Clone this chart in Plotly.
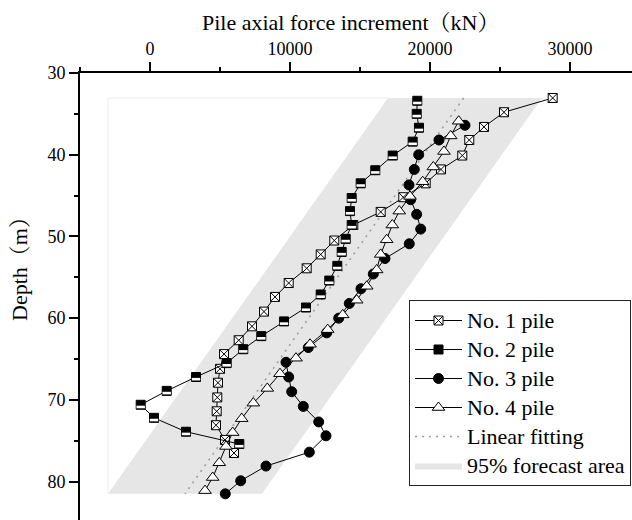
import plotly.graph_objects as go

# ---------------- data ----------------
depth1 = [33.06, 34.8, 36.6, 38.2, 40.1, 41.8, 43.5, 45.2, 47.0, 48.6, 50.5, 52.2, 53.9,
          55.7, 57.4, 59.2, 61.0, 62.7, 64.4, 66.2, 67.9, 69.7, 71.4, 73.1, 74.9, 76.5]
force1 = [28764, 25286, 23857, 22807, 22307, 20786, 19693, 18093, 16479, 14521, 13164, 12193,
          11193, 9907, 8929, 8143, 7286, 6336, 5286, 5000, 4857, 4807, 4764, 4714, 5357, 6000]

depth2 = [33.4, 35.0, 36.7, 38.4, 40.1, 41.9, 43.5, 45.3, 46.9, 48.6, 50.3, 51.9, 53.6,
          55.4, 57.1, 58.7, 60.4, 62.2, 63.8, 65.5, 67.2, 68.9, 70.6, 72.2, 73.9, 75.4]
force2 = [19093, 19050, 19214, 18764, 17336, 16093, 15050, 14407, 14286, 14407, 13979, 13693,
          13379, 12807, 12193, 11143, 9571, 7950, 6664, 5479, 3286, 1193, -664, 286, 2571, 6379]

depth3 = [36.4, 38.2, 40.0, 41.8, 43.7, 45.5, 47.3, 49.1, 50.9, 52.7, 54.6, 56.4, 58.2,
          60.0, 61.8, 63.6, 65.4, 67.2, 69.0, 70.8, 72.7, 74.4, 76.4, 78.1, 79.9, 81.5]
force3 = [22500, 20643, 19193, 18879, 18500, 18621, 19050, 19336, 18521, 16786, 15950, 15071,
          14236, 13479, 12621, 11307, 9714, 9907, 10121, 10950, 12050, 12571, 11379, 8286, 6479, 5379]

depth4 = [35.9, 37.7, 39.6, 41.5, 43.3, 45.1, 46.9, 48.6, 50.4, 52.2, 54.1, 56.1, 57.8,
          59.6, 61.4, 63.2, 64.9, 66.8, 68.6, 70.4, 72.3, 74.0, 75.7, 77.7, 79.5, 81.1]
force4 = [22050, 21479, 21000, 20236, 19479, 18571, 17807, 17307, 16907, 16479, 16193, 15479,
          14764, 13764, 12693, 11429, 10429, 9286, 8379, 7379, 6550, 5907, 5429, 4950, 4479, 3929]

fit_depth = [33.06, 81.5]
fit_force = [22400, 2500]

band_depth = [33.06, 33.06, 81.5, 81.5]
band_force = [17000, 28000, 8000, -3000]

x_ticks = [0, 10000, 20000, 30000]
y_ticks = [30, 40, 50, 60, 70, 80]

# ---------------- layout constants ----------------
W, H = 632, 520
ML, MR, MT, MB = 80, 0, 73, 0
Y_RANGE = [84.7, 30]
X_RANGE = [-5000, 34430]
FONT = "Liberation Serif, Times New Roman, Noto Serif CJK SC, Noto Sans CJK SC, serif"
LEG = '<span style="font-size:22px">{}</span>'

px_per_m = (H - MT - MB) / (Y_RANGE[0] - Y_RANGE[1])

fig = go.Figure()

# forecast band (drawn first, listed last in legend)
fig.add_trace(go.Scatter(
    x=band_force, y=band_depth, mode="lines", fill="toself",
    fillcolor="#e6e6e6", line=dict(width=0, color="#e6e6e6"),
    name=LEG.format("95% forecast area"), legendrank=6,
    hoverinfo="skip"))

# faint frame along the band's left and top edges
fig.add_trace(go.Scatter(
    x=[band_force[3], band_force[3], band_force[0]],
    y=[band_depth[3], band_depth[0], band_depth[0]],
    mode="lines", line=dict(color="#ececec", width=1),
    showlegend=False, hoverinfo="skip"))

# linear fitting
fig.add_trace(go.Scatter(
    x=fit_force, y=fit_depth, mode="lines",
    line=dict(color="#9a9a9a", width=1.5, dash="2px,5px"),
    name=LEG.format("Linear fitting"), legendrank=5))

line_style = dict(color="black", width=1)

fig.add_trace(go.Scatter(
    x=force1, y=depth1, mode="lines+markers", line=line_style,
    marker=dict(symbol="square-x", size=9, color="white",
                line=dict(color="black", width=1)),
    name=LEG.format("No. 1 pile"), legendrank=1))

fig.add_trace(go.Scatter(
    x=force2, y=depth2, mode="lines+markers", line=line_style,
    marker=dict(symbol="square", size=9, color="black",
                line=dict(color="black", width=1)),
    name=LEG.format("No. 2 pile"), legendrank=2))
# white lower strip of the half-filled squares
fig.add_trace(go.Scatter(
    x=force2, y=[d + 2.2 / px_per_m for d in depth2], mode="markers",
    marker=dict(symbol="line-ew", size=6, line=dict(color="white", width=2.6)),
    showlegend=False, hoverinfo="skip"))

fig.add_trace(go.Scatter(
    x=force3, y=depth3, mode="lines+markers", line=line_style,
    marker=dict(symbol="circle", size=10, color="black",
                line=dict(color="black", width=1)),
    name=LEG.format("No. 3 pile"), legendrank=3))

fig.add_trace(go.Scatter(
    x=force4, y=depth4, mode="lines+markers", line=line_style,
    marker=dict(symbol="triangle-up", size=11, color="white",
                line=dict(color="black", width=1)),
    name=LEG.format("No. 4 pile"), legendrank=4))

fig.update_layout(
    width=W, height=H, autosize=False,
    margin=dict(l=ML, r=MR, t=MT, b=MB, pad=0, autoexpand=False),
    paper_bgcolor="white", plot_bgcolor="white",
    font=dict(family=FONT, size=18, color="black"),
    showlegend=True,
    legend=dict(
        x=(409 - ML) / (W - ML - MR), y=(H - MB - 300) / (H - MT - MB),
        xanchor="left", yanchor="top",
        bgcolor="white", bordercolor="#222", borderwidth=1,
        font=dict(family=FONT, size=20, color="black"),
        itemwidth=47, traceorder="normal", tracegroupgap=0,
    ),
    xaxis=dict(
        side="top", range=X_RANGE, tickvals=x_ticks, tickformat="d",
        showgrid=False, zeroline=False, showline=True, linecolor="black", linewidth=2,
        ticks="outside", ticklen=9, tickwidth=2, tickcolor="black",
        tickfont=dict(family=FONT, size=18),
        minor=dict(ticks="outside", ticklen=4, tickwidth=2, tickcolor="black",
                   dtick=5000, tick0=0, showgrid=False),
    ),
    yaxis=dict(
        range=Y_RANGE, tickvals=y_ticks,
        showgrid=False, zeroline=False, showline=True, linecolor="black", linewidth=2,
        ticks="outside", ticklen=9, tickwidth=2, tickcolor="black",
        tickfont=dict(family=FONT, size=18),
        minor=dict(ticks="outside", ticklen=4, tickwidth=2, tickcolor="black",
                   dtick=5, tick0=30, showgrid=False),
    ),
    annotations=[
        dict(text="Pile axial force increment（kN）", xref="paper", yref="paper",
             x=(351 - ML) / (W - ML - MR), y=1 + (MT - 22) / (H - MT - MB),
             xanchor="center", yanchor="middle", showarrow=False,
             font=dict(family=FONT, size=22)),
        dict(text="Depth（m）", xref="paper", yref="paper",
             x=(19 - ML) / (W - ML - MR), y=(H - MB - 264) / (H - MT - MB),
             xanchor="center", yanchor="middle", showarrow=False, textangle=-90,
             font=dict(family=FONT, size=22)),
    ],
)

fig.write_html("out.html", config={"displayModeBar": False})
